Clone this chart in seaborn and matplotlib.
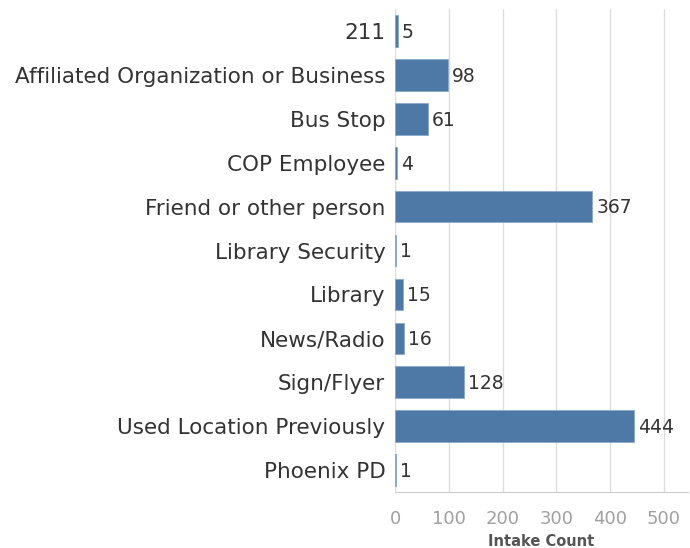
import matplotlib
matplotlib.use('Agg')
import matplotlib.pyplot as plt
import seaborn as sns
import pandas as pd

categories = ['211', 'Affiliated Organization or Business', 'Bus Stop', 'COP Employee',
              'Friend or other person', 'Library Security', 'Library', 'News/Radio',
              'Sign/Flyer', 'Used Location Previously', 'Phoenix PD']
counts = [5, 98, 61, 4, 367, 1, 15, 16, 128, 444, 1]
x_ticks = [0, 100, 200, 300, 400, 500]

df = pd.DataFrame({'source': categories, 'count': counts})

sns.set_style('white')
plt.rcParams['font.family'] = ['DejaVu Sans']

fig = plt.figure(figsize=(6.9, 5.48), dpi=100)
ax = fig.add_axes([0.5725, 0.102, 0.4245, 0.8816])

sns.barplot(data=df, y='source', x='count', orient='h', color='#4e79a7',
            saturation=1, width=0.72, edgecolor='#8aa8c8', linewidth=0.6, ax=ax)

# value labels right of the bars
for i, v in enumerate(counts):
    ax.text(v + 8, i + 0.03, str(v), va='center', ha='left', fontsize=13.5, color='#333333')

ax.set_xlim(0, 545)
ax.set_xticks(x_ticks)
ax.set_xticklabels([str(t) for t in x_ticks], color='#a0a0a0', fontsize=13)
ax.set_xlabel('Intake Count', fontsize=10.5, fontweight='bold', color='#555555', labelpad=4)
ax.set_ylabel('')
ax.tick_params(axis='y', length=0, labelsize=15.5, labelcolor='#333333', pad=7)
ax.tick_params(axis='x', length=4, color='#cccccc', width=0.8, pad=9)
ax.grid(axis='x', color='#dddddd', linewidth=1)
ax.set_axisbelow(True)
for s in ['top', 'right', 'left']:
    ax.spines[s].set_visible(False)
ax.spines['bottom'].set_color('#cccccc')

fig.savefig('out.png', dpi=100)
